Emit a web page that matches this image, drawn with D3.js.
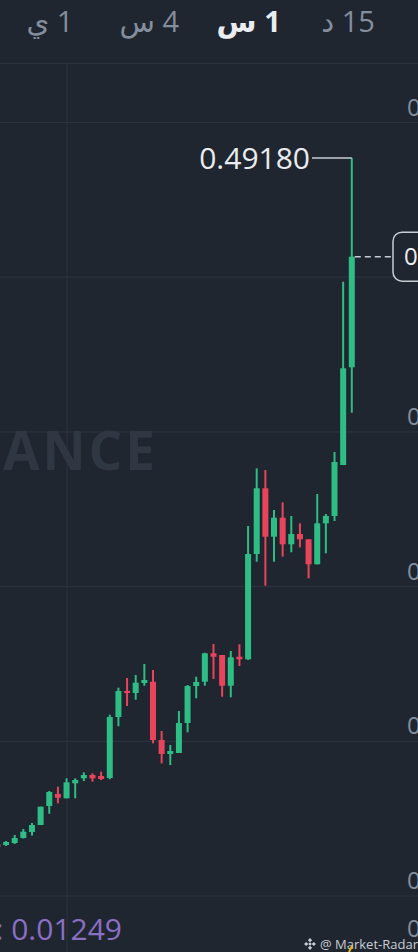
<!DOCTYPE html>
<html><head><meta charset="utf-8">
<script src="https://cdn.jsdelivr.net/npm/d3@7"></script>
<style>
html,body{margin:0;padding:0;background:#1f2630;overflow:hidden;}
svg{display:block;}
text{font-family:"Open Sans","DejaVu Sans",sans-serif;}
</style></head>
<body>
<svg id="c" width="418" height="952"></svg>
<script>
// ---- data ----
const tabs = ["1 ي", "4 س", "1 س", "15 د"];
const activeTab = "1 س";
const priceTicks = [0.515, 0.415, 0.315, 0.215, 0.115, 0.015];
const open  = [0.04829,0.04764,0.04894,0.05217,0.05605,0.06057,0.07285,0.08061,0.07783,0.08753,0.09076,0.09289,0.09225,0.09095,0.13038,0.14719,0.14590,0.15236,0.15320,0.11552,0.10647,0.10711,0.12650,0.15042,0.15320,0.17156,0.17046,0.15061,0.16936,0.16768,0.23575,0.27822,0.24693,0.25921,0.24202,0.24868,0.24525,0.22909,0.25559,0.26031,0.29328,0.35643];
const high  = [0.04894,0.05023,0.05411,0.05799,0.06186,0.07240,0.08255,0.08533,0.09076,0.09076,0.09464,0.09399,0.09503,0.13187,0.14932,0.15559,0.15753,0.16464,0.16076,0.12133,0.11228,0.13426,0.15107,0.15643,0.17195,0.17757,0.17046,0.17305,0.17738,0.25385,0.29114,0.29005,0.26419,0.26917,0.26031,0.25559,0.24525,0.27453,0.26161,0.30168,0.41177,0.49180];
const low   = [0.04570,0.04700,0.04829,0.05184,0.05372,0.06057,0.06787,0.07460,0.07783,0.07783,0.08901,0.08856,0.08966,0.09011,0.12437,0.13749,0.14156,0.15061,0.11338,0.10045,0.09935,0.10711,0.12049,0.14247,0.15061,0.15495,0.14350,0.14312,0.16335,0.16723,0.23077,0.21526,0.23077,0.23400,0.23685,0.24008,0.22004,0.22909,0.23620,0.25708,0.29328,0.32709];
const close = [0.04635,0.04958,0.05217,0.05624,0.06057,0.07240,0.08190,0.07822,0.08817,0.08966,0.09289,0.09076,0.09031,0.13038,0.14719,0.14590,0.15255,0.15430,0.11552,0.10647,0.10841,0.12650,0.15042,0.15301,0.17156,0.16936,0.15061,0.16898,0.16768,0.23575,0.27822,0.24693,0.25921,0.24202,0.24868,0.24525,0.22909,0.25559,0.26031,0.29522,0.35579,0.42793];
const highLabel = "0.49180";
const lastPriceText = "0.42793";
const bottomValueText = ": 0.01249";
const lowerPaneLabel = "0.00000";
const timeGridIndex = [8.06];
const watermark = "BINANCE";
const credit = "@ Market-Radar";

// ---- drawing ----
const W = 418, H = 952;
const svg = d3.select("#c");
const GREEN = "#2ebd85", RED = "#e8455d", GRID = "#2b323d", AXIS = "#848e9c";
const n = close.length;
const candles = d3.range(n).map(i => ({i, o: open[i], h: high[i], l: low[i], c: close[i]}));

const x = d3.scaleLinear().domain([0, n - 1]).range([-2.6, 351.8]);
const y = d3.scaleLinear().domain([0.015, 0.515]).range([895.5, 122]);
const lastY = y(close[n - 1]);

svg.append("rect").attr("width", W).attr("height", H).attr("fill", "#1f2630");

// tabs
const tabX = d3.scalePoint().domain(tabs).range([50, 348]);
svg.append("g").selectAll("text").data(tabs).join("text")
  .attr("x", d => tabX(d)).attr("y", 32)
  .attr("text-anchor", "middle")
  .attr("direction", "rtl")
  .style("direction", "rtl")
  .attr("font-size", 29)
  .attr("font-weight", d => d === activeTab ? 700 : 400)
  .attr("fill", d => d === activeTab ? "#eaecef" : AXIS)
  .text(d => d);

// separator
svg.append("line").attr("x1", 0).attr("x2", W).attr("y1", 63.5).attr("y2", 63.5)
  .attr("stroke", GRID).attr("stroke-width", 1);

// horizontal grid
const yAxis = d3.axisRight(y).tickValues(priceTicks).tickSize(W).tickFormat(d3.format(".5f"));
const gAxis = svg.append("g").call(yAxis);
gAxis.select(".domain").remove();
gAxis.selectAll(".tick line").attr("stroke", GRID).attr("stroke-width", 1.2);
gAxis.selectAll(".tick text").attr("x", 407).attr("dy", -7).attr("text-anchor", "start")
  .attr("fill", AXIS).attr("font-size", 24).attr("font-family", "Open Sans, sans-serif")
  .attr("display", d => Math.abs(y(d) - lastY) < 30 ? "none" : null);

// vertical grid
svg.append("g").selectAll("line").data(timeGridIndex).join("line")
  .attr("x1", d => x(d)).attr("x2", d => x(d)).attr("y1", 64).attr("y2", H)
  .attr("stroke", GRID).attr("stroke-width", 1.2);

// watermark
svg.append("text").attr("x", 158).attr("y", 470).attr("text-anchor", "end")
  .attr("font-size", 53).attr("font-weight", 700).attr("letter-spacing", 3)
  .attr("fill", "#2f3743").text(watermark);

// candles
const g = svg.append("g");
g.selectAll("line.wick").data(candles).join("line").attr("class", "wick")
  .attr("x1", d => x(d.i)).attr("x2", d => x(d.i))
  .attr("y1", d => y(d.h)).attr("y2", d => y(d.l))
  .attr("stroke", d => d.c >= d.o ? GREEN : RED).attr("stroke-width", 2);
g.selectAll("rect.body").data(candles).join("rect").attr("class", "body")
  .attr("x", d => x(d.i) - 3).attr("width", 6)
  .attr("y", d => y(Math.max(d.o, d.c)))
  .attr("height", d => Math.max(1.5, Math.abs(y(d.o) - y(d.c))))
  .attr("fill", d => d.c >= d.o ? GREEN : RED);

// high marker
const hiIdx = d3.maxIndex(high);
svg.append("line").attr("x1", 312).attr("x2", x(hiIdx)).attr("y1", y(high[hiIdx])).attr("y2", y(high[hiIdx]))
  .attr("stroke", "#c9cdd3").attr("stroke-width", 1.5);
svg.append("text").attr("x", 310).attr("y", y(high[hiIdx]) + 11).attr("text-anchor", "end")
  .attr("font-size", 30).attr("fill", "#eaecef").text(highLabel);

// last price
svg.append("line").attr("x1", x(n - 1) + 3).attr("x2", 393).attr("y1", lastY).attr("y2", lastY)
  .attr("stroke", "#c9cdd3").attr("stroke-width", 1.5).attr("stroke-dasharray", "6,4");
svg.append("rect").attr("x", 393).attr("y", lastY - 24.5).attr("width", 60).attr("height", 49)
  .attr("rx", 9).attr("fill", "#1f2630").attr("stroke", "#c9cdd3").attr("stroke-width", 1.5);
svg.append("text").attr("x", 404).attr("y", lastY + 8.5).attr("font-size", 24)
  .attr("fill", "#eaecef").text(lastPriceText);

// lower pane
svg.append("text").attr("x", 122).attr("y", 940).attr("text-anchor", "end")
  .attr("font-size", 30).attr("fill", "#8a6fc4").text(bottomValueText);
svg.append("text").attr("x", 407).attr("y", 937).attr("font-size", 24)
  .attr("fill", AXIS).text(lowerPaneLabel);

// credit
const logo = svg.append("g").attr("transform", "translate(310,944)").attr("fill", "#c9cdd3");
[[0,-3.8],[3.8,0],[0,3.8],[-3.8,0]].forEach(([dx,dy]) => {
  logo.append("rect").attr("x", dx - 1.5).attr("y", dy - 1.5).attr("width", 3).attr("height", 3)
    .attr("transform", `rotate(45 ${dx} ${dy})`);
});
logo.append("rect").attr("x", -1.3).attr("y", -1.3).attr("width", 2.6).attr("height", 2.6)
  .attr("transform", "rotate(45)");
svg.append("text").attr("x", 320).attr("y", 948.5).attr("font-size", 13)
  .attr("fill", "#c9cdd3").text(credit);
svg.append("path").attr("d", "M349,952 L352,946").attr("stroke", "#f0b90b").attr("stroke-width", 2);
</script>
</body></html>
